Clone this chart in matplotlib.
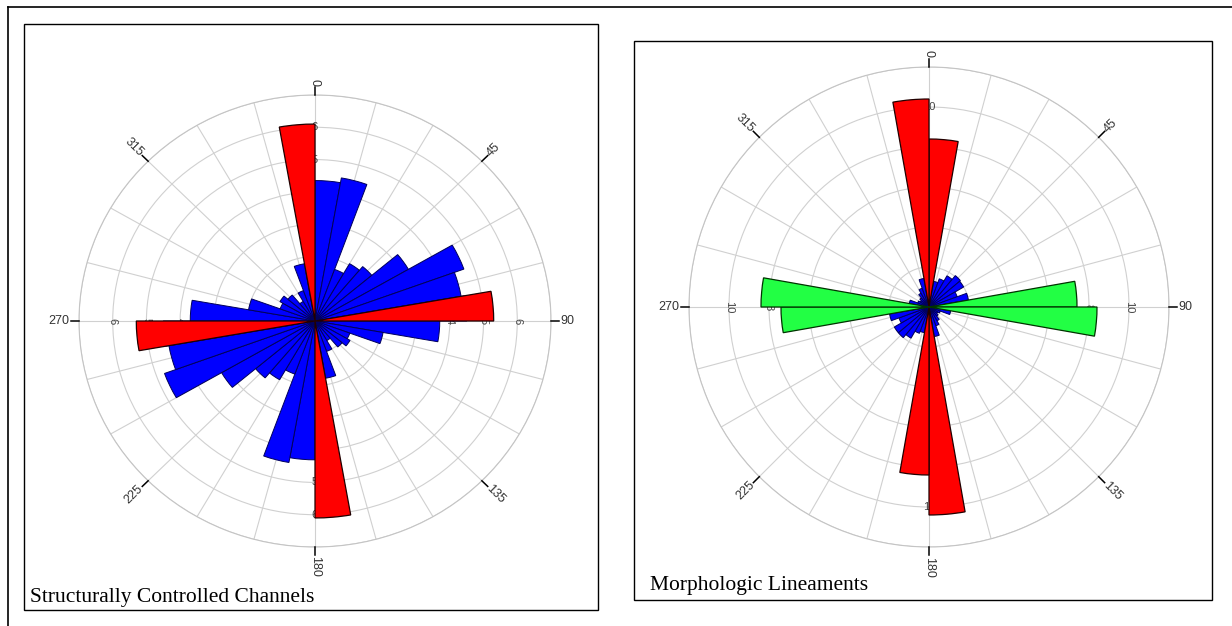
import matplotlib.pyplot as plt
import numpy as np
from matplotlib.patches import Rectangle

plt.rcParams['font.family'] = 'Liberation Sans'

W, H = 1232, 626

# 10-degree azimuth bins, clockwise from north
bin_centers = np.arange(5, 360, 10)

# Structurally controlled channels
channel_blue = [4.35, 4.5, 1.7, 2.05, 2.2, 3.2, 4.7, 4.4, 4.5, 3.7, 2.05, 1.1,
                1.2, 1.05, 0.7, 1.0, 1.8, 1.5,
                4.3, 4.45, 1.75, 2.1, 2.3, 3.2, 4.75, 4.4, 4.5, 3.7, 2.0, 1.1,
                1.2, 1.05, 0.7, 1.0, 1.8, 1.5]
channel_red_dirs = [85, 175, 265, 355]
channel_red = [5.3, 6.1, 5.3, 6.1]
channel_rings = [1, 2, 3, 4, 5, 6, 7]
channel_ring_labels = [1, 2, 3, 4, 5, 6]

# Morphologic lineaments
lineament_blue = [1.0, 1.3, 1.5, 1.8, 2.05, 2.0, 1.5, 2.0, 1.5, 1.0, 1.1, 0.6,
                  0.5, 0.6, 0.8, 1.0, 1.5, 1.0,
                  1.0, 1.3, 1.4, 1.8, 2.0, 2.0, 1.6, 2.0, 1.5, 1.0, 1.0, 0.6,
                  0.5, 0.6, 0.8, 1.0, 1.45, 1.0]
lineament_red_dirs = [5, 175, 185, 355]
lineament_red = [8.4, 10.4, 8.4, 10.4]
lineament_green_dirs = [85, 95, 265, 275]
lineament_green = [7.4, 8.4, 7.4, 8.4]
lineament_rings = [2, 4, 6, 8, 10, 12]
lineament_ring_labels = [2, 4, 6, 8, 10]

compass = [0, 45, 90, 135, 180, 225, 270, 315]

fig = plt.figure(figsize=(W / 100, H / 100), dpi=100)


def fig_rect(x0, y0, x1, y1):
    # pixel box (top-left origin) -> figure fractions
    return [x0 / W, 1 - y1 / H, (x1 - x0) / W, (y1 - y0) / H]


def frame(x0, y0, x1, y1, lw=1.0):
    l, b, w, h = fig_rect(x0, y0, x1, y1)
    fig.add_artist(Rectangle((l, b), w, h, transform=fig.transFigure,
                             fill=False, ec='black', lw=lw))


def rose(cx, cy, rx, ry, rmax, rings, ring_labels):
    ax = fig.add_axes(fig_rect(cx - rx, cy - ry, cx + rx, cy + ry),
                      projection='polar')
    ax.set_aspect('auto')
    ax.set_theta_zero_location('N')
    ax.set_theta_direction(-1)
    ax.set_ylim(0, rmax)
    ax.set_xticks(np.deg2rad(np.arange(0, 360, 15)))
    ax.set_yticks(rings)
    ax.set_xticklabels([])
    ax.set_yticklabels([])
    ax.set_axisbelow(True)
    ax.grid(color='#d0d0d0', lw=0.8)
    ax.spines['polar'].set_color('#c4c4c4')
    ax.spines['polar'].set_linewidth(0.8)

    for a in compass:
        th = np.deg2rad(a)
        ax.plot([th, th], [rmax, rmax * 1.035], color='black', lw=1.1,
                clip_on=False, zorder=4)
        rot = ((90 - a + 90) % 180) - 90
        outward = 0 < a <= 180
        ax.text(th, rmax * 1.04, str(a), rotation=rot, rotation_mode='anchor',
                ha='left' if outward else 'right', va='center',
                fontsize=9, color='#333333', clip_on=False)

    # ring values along the four main axes, sitting under the bars
    for a in [0, 90, 180, 270]:
        th = np.deg2rad(a)
        for v in ring_labels:
            ax.text(th, v, str(v), rotation=-90 if a in (90, 270) else 0,
                    ha='center', va='center', fontsize=8, color='#444444',
                    zorder=1)
    return ax


width = np.deg2rad(10)

# left panel
frame(24, 24, 598, 610)
ax1 = rose(315, 321, 236, 226, 7, channel_rings, channel_ring_labels)
ax1.bar(np.deg2rad(bin_centers), channel_blue, width=width, color='#0000ff',
        edgecolor='#00005a', lw=0.7, zorder=2)
ax1.bar(np.deg2rad(channel_red_dirs), channel_red, width=width, color='#ff0000',
        edgecolor='#200000', lw=0.9, zorder=3)
fig.text(30 / W, 1 - 602 / H, 'Structurally Controlled Channels',
         family='Liberation Serif', fontsize=15.5, va='baseline')

# right panel
frame(634, 41, 1212, 600)
ax2 = rose(929, 307, 240, 240, 12, lineament_rings, lineament_ring_labels)
ax2.bar(np.deg2rad(bin_centers), lineament_blue, width=width, color='#0000ff',
        edgecolor='#00005a', lw=0.7, zorder=2)
ax2.bar(np.deg2rad(lineament_red_dirs), lineament_red, width=width,
        color='#ff0000', edgecolor='#200000', lw=0.9, zorder=3)
ax2.bar(np.deg2rad(lineament_green_dirs), lineament_green, width=width,
        color='#22ff44', edgecolor='#003300', lw=0.9, zorder=3)
fig.text(650 / W, 1 - 590 / H, 'Morphologic Lineaments',
         family='Liberation Serif', fontsize=15.5, va='baseline')

# outer border
fig.add_artist(plt.Line2D([8 / W, 8 / W], [0, 1 - 7 / H], color='black',
                          lw=1.2, transform=fig.transFigure))
fig.add_artist(plt.Line2D([8 / W, 1], [1 - 7 / H, 1 - 7 / H], color='black',
                          lw=1.2, transform=fig.transFigure))

fig.savefig('out.png', dpi=100)
